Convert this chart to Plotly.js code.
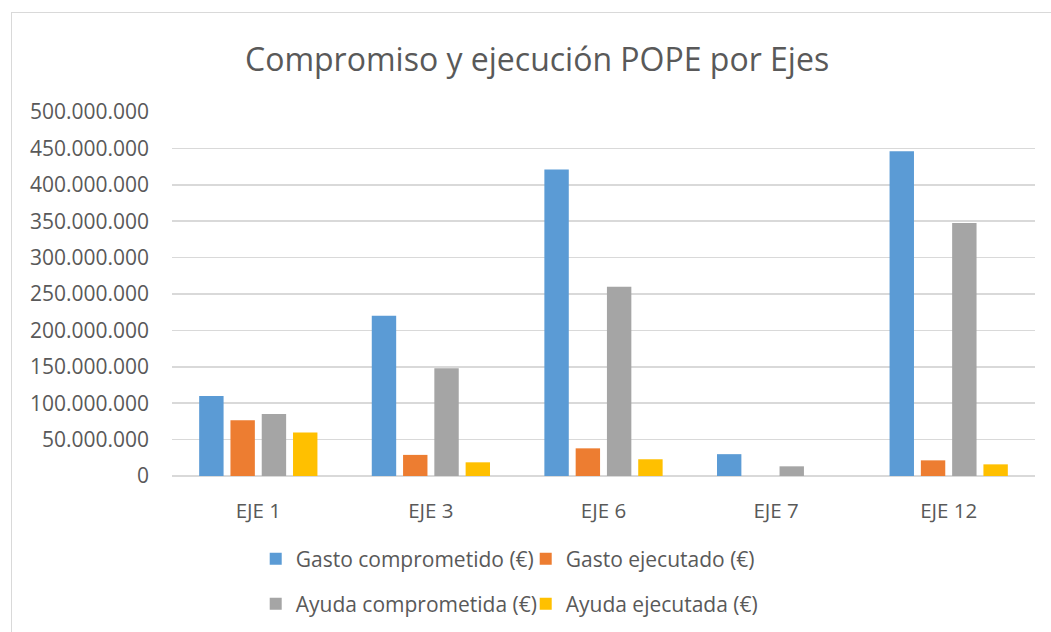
<!DOCTYPE html>
<html>
<head>
<meta charset="utf-8">
<script src="https://cdn.plot.ly/plotly-3.0.1.min.js"></script>
<style>
html, body { margin:0; padding:0; overflow:hidden; background:#fff; }
#chart { width:1051px; height:632px; position:absolute; left:0; top:0; }
#frame { position:absolute; left:11px; top:12px; width:1100px; height:700px; border:1px solid #d9d9d9; pointer-events:none; }
</style>
</head>
<body>
<div id="chart"></div>
<div id="frame"></div>
<script>
const categories = ["EJE 1", "EJE 3", "EJE 6", "EJE 7", "EJE 12"];
const seriesNames = ["Gasto comprometido (€)", "Gasto ejecutado (€)", "Ayuda comprometida (€)", "Ayuda ejecutada (€)"];
const gastoComprometido = [110000000, 220000000, 421000000, 30000000, 446000000];
const gastoEjecutado = [76500000, 29000000, 38000000, 0, 21500000];
const ayudaComprometida = [85000000, 148000000, 260000000, 13300000, 347500000];
const ayudaEjecutada = [59700000, 18800000, 23000000, 0, 16000000];
const colors = ["#5B9BD5", "#ED7D31", "#A5A5A5", "#FFC000"];
const values = [gastoComprometido, gastoEjecutado, ayudaComprometida, ayudaEjecutada];
const legendIds = ["legend", "legend", "legend2", "legend2"];

const font = "'Open Sans', 'Noto Sans', sans-serif";
const textColor = "#595959";

const traces = values.map((v, i) => ({
  type: "bar",
  name: seriesNames[i],
  x: categories,
  y: v,
  marker: { color: colors[i] },
  legend: legendIds[i],
  hoverinfo: "x+y+name"
}));

const legendCommon = {
  orientation: "h",
  xanchor: "left",
  yanchor: "middle",
  entrywidth: 225,
  entrywidthmode: "pixels",
  font: { family: font, size: 21, color: textColor },
  bgcolor: "rgba(0,0,0,0)",
  borderwidth: 0,
  itemclick: false
};

const layout = {
  width: 1051,
  height: 632,
  margin: { l: 172, r: 16, t: 112, b: 156, autoexpand: false },
  paper_bgcolor: "#ffffff",
  plot_bgcolor: "#ffffff",
  separators: ",.",
  title: {
    text: "Compromiso y ejecución POPE por Ejes",
    font: { family: font, size: 32, color: textColor },
    x: 0.511, xanchor: "center",
    y: 0.905, yanchor: "middle"
  },
  barmode: "group",
  bargap: 0.275,
  bargroupgap: 0.22,
  xaxis: {
    type: "category",
    showgrid: false,
    showline: false,
    zeroline: false,
    ticks: "",
    ticklabelstandoff: 20,
    tickfont: { family: font, size: 20.5, color: textColor }
  },
  yaxis: {
    range: [0, 500000000],
    dtick: 50000000,
    tickformat: ",d",
    showgrid: true,
    gridcolor: "#d9d9d9",
    gridwidth: 1.5,
    zeroline: true,
    zerolinecolor: "#d9d9d9",
    zerolinewidth: 1.5,
    showline: false,
    ticks: "",
    ticklabelstandoff: 22,
    tickfont: { family: font, size: 21, color: textColor }
  },
  legend: Object.assign({}, legendCommon, { x: 0.097, y: -0.228 }),
  legend2: Object.assign({}, legendCommon, { x: 0.097, y: -0.352 })
};

Plotly.newPlot("chart", traces, layout, { displayModeBar: false, staticPlot: true });
</script>
</body>
</html>
